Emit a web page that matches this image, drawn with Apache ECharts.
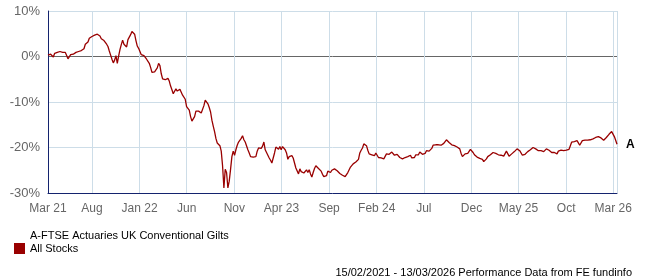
<!DOCTYPE html>
<html>
<head>
<meta charset="utf-8">
<script src="https://cdn.jsdelivr.net/npm/echarts@6/dist/echarts.min.js"></script>
<style>
html,body{margin:0;padding:0;background:#fff;}
#chart{width:647px;height:280px;}
</style>
</head>
<body>
<div id="chart"></div>
<script>
// ---- Data ----
const seriesName = 'A-FTSE Actuaries UK Conventional Gilts All Stocks';
const axisStart = '2021-03-13';
const axisEnd = '2026-03-13';
const tickDates = ['2021-03-13','2021-08-01','2022-01-01','2022-06-01','2022-11-01','2023-04-01','2023-09-01','2024-02-01','2024-07-01','2024-12-01','2025-05-01','2025-10-01','2026-03-01'];
const tickLabels = ['Mar 21','Aug','Jan 22','Jun','Nov','Apr 23','Sep','Feb 24','Jul','Dec','May 25','Oct','Mar 26'];
const yTicks = [-30, -20, -10, 0, 10];

// cumulative performance (%), regularly spaced samples from axisStart to axisEnd
const perf2021 = [0.3,-0.1,0.5,0.4,-0.1,0.7,0.8,0.9,1.1,1.1,0.9,0.9,1.0,0.9,0.2,-0.5,-0.1,0.4,0.8,0.5,0.4,0.9,1.1,1.1,1.0,1.3,1.6,1.7,2.7,2.9,3.2,4.0,4.2,4.4,4.8,4.7,4.7,4.9,4.8,4.5,3.9,3.7,3.5,3.1,2.7,2.2,1.2,0.3,-0.6,-1.4,-0.8,0.2,-1.5,0.1,1.5,2.6,3.6,2.7,3.1,2.1,3.7,4.0,4.8,5.5,5.8,4.9,3.5,2.3,1.8,1.1,0.4,0.0,0.2,-0.2,-0.6,-0.4,-1.5,-2.4,-3.5,-3.5,-3.4,-3.0,-2.5,-1.5,-2.0,-3.8,-4.9,-5.0,-5.1,-5.4,-4.8,-5.4,-6.5,-7.3,-8.2,-8.2,-7.1,-7.6,-8.0,-7.2,-7.6,-8.5,-8.8];
const perf2022 = [-9.4,-11.0,-11.3,-11.8,-13.2,-14.2,-14.0,-13.2,-12.0,-11.6,-12.0,-11.8,-12.4,-12.0,-10.8,-9.6,-9.3,-10.4,-11.2,-12.2,-14.0,-15.3,-16.5,-18.0,-19.0,-19.4,-19.6,-20.8,-24.0,-28.9,-24.8,-25.5,-28.9,-27.4,-24.8,-22.0,-20.8,-21.7,-20.5,-19.5,-18.8,-19.1,-18.0,-17.4,-18.3,-18.8,-19.2,-20.5,-21.2,-22.0,-22.3,-22.1,-21.7,-22.0,-20.8,-20.1,-19.9,-20.2,-19.7,-18.8,-20.5,-20.9,-21.7,-22.3,-22.8,-23.4,-23.0,-21.2,-19.9,-19.5,-20.4,-19.8,-20.5,-19.8,-20.1,-20.5,-21.2,-22.6,-22.0,-22.3,-21.8,-22.3,-23.4,-24.5,-24.9,-25.8,-24.7,-25.3,-24.9,-25.6,-25.2,-24.9,-25.5,-24.9,-25.8,-26.5,-25.5,-24.6,-24.0,-24.3,-24.6,-24.3,-25.2,-25.9,-26.4];
const perf2024 = [-26.6,-26.2,-25.2,-25.4,-25.5,-25.0,-24.6,-24.7,-25.1,-25.1,-25.5,-25.7,-25.5,-26.1,-26.5,-26.4,-26.0,-25.5,-24.9,-24.3,-24.0,-23.6,-23.4,-23.2,-23.0,-22.6,-21.2,-20.6,-20.1,-19.2,-19.0,-19.6,-20.6,-21.4,-21.7,-21.6,-21.8,-21.8,-21.2,-21.5,-22.2,-22.4,-22.3,-22.4,-22.5,-22.1,-21.4,-21.4,-21.5,-21.2,-21.0,-21.1,-21.7,-21.8,-21.5,-21.7,-22.2,-22.3,-22.5,-22.6,-22.2,-21.8,-22.0,-21.8,-21.7,-22.3,-22.6,-22.2,-21.6,-21.7,-21.6,-21.0,-21.3,-21.5,-21.5,-21.3,-20.7,-20.8,-20.8,-20.5,-20.2,-19.5,-19.4,-19.4,-19.3,-19.4,-19.4,-19.5,-19.3,-19.1,-18.8,-18.3,-18.3,-18.9,-19.2,-19.4,-19.5,-19.6,-20.0,-19.9,-19.7,-20.3,-21.3,-22.0,-22.0];
const perf2025 = [-21.4,-21.2,-21.3,-21.0,-20.4,-20.6,-21.1,-21.6,-21.9,-22.1,-22.4,-22.4,-22.3,-22.6,-23.1,-23.1,-22.5,-22.0,-21.8,-21.6,-21.3,-21.1,-21.2,-21.3,-21.4,-21.6,-21.7,-21.7,-21.6,-21.9,-21.5,-20.8,-21.1,-21.9,-21.6,-21.4,-21.4,-20.9,-20.6,-20.3,-20.4,-20.7,-21.1,-21.7,-21.8,-21.5,-21.2,-20.9,-20.6,-20.5,-20.4,-20.0,-20.0,-20.3,-20.5,-20.7,-20.7,-20.7,-20.8,-20.9,-20.8,-20.3,-20.2,-20.6,-20.9,-21.1,-21.0,-21.1,-21.5,-21.4,-20.8,-20.6,-20.6,-20.5,-20.7,-20.7,-20.6,-20.8,-20.4,-19.6,-18.8,-18.7,-18.7,-18.4,-18.5,-19.0,-19.5,-19.3,-18.5,-18.4,-18.4,-18.4,-18.4,-18.4,-18.3,-18.2,-18.1,-17.9,-17.8,-17.5,-17.6,-17.8,-17.9,-18.2,-18.4,-18.2,-17.8,-17.4,-17.1,-16.8,-16.5,-16.9,-17.6,-18.4,-19.3];

// ---- Build ----
const values = perf2021.concat(perf2022, perf2024, perf2025);
const toTs = s => new Date(s + 'T00:00:00').getTime();
const t0 = toTs(axisStart), t1 = toTs(axisEnd);
const stepMs = (t1 - t0) / (values.length - 1);
const seriesData = values.map((v, i) => [t0 + i * stepMs, v]);
const tickTs = tickDates.map(toTs);
const gridTs = tickTs.concat([t1]);

const FONT = '"Liberation Sans", Arial, sans-serif';
const GRID = '#cddde8';
const NAVY = '#14236e';
const RED = '#990000';

const chart = echarts.init(document.getElementById('chart'), null, {renderer: 'canvas'});
chart.setOption({
  animation: false,
  backgroundColor: '#fff',
  grid: {left: 48, right: 30, top: 11, height: 182, containLabel: false},
  xAxis: {
    type: 'value',
    min: t0,
    max: t1,
    axisLine: {show: true, onZero: false, lineStyle: {color: NAVY, width: 1}},
    axisTick: {show: false, customValues: gridTs},
    splitLine: {show: true, lineStyle: {color: GRID, width: 1}},
    axisLabel: {
      customValues: tickTs,
      color: '#666',
      fontFamily: FONT,
      fontSize: 12,
      margin: 10,
      hideOverlap: false,
      showMinLabel: true,
      showMaxLabel: true,
      formatter: function (val) {
        let best = 0, bd = Infinity;
        tickTs.forEach((t, i) => { const d = Math.abs(t - val); if (d < bd) { bd = d; best = i; } });
        return tickLabels[best];
      }
    }
  },
  yAxis: {
    type: 'value',
    min: yTicks[0],
    max: yTicks[yTicks.length - 1],
    interval: 10,
    axisLine: {show: true, lineStyle: {color: NAVY, width: 1}},
    axisTick: {show: false},
    splitLine: {show: true, lineStyle: {color: yTicks.map(v => v === 0 ? '#666666' : GRID), width: 1}},
    axisLabel: {color: '#666', fontFamily: FONT, fontSize: 13, margin: 8, formatter: '{value}%'}
  },
  series: [{
    name: seriesName,
    type: 'line',
    data: seriesData,
    showSymbol: false,
    symbol: 'none',
    lineStyle: {color: RED, width: 1.3},
    itemStyle: {color: RED},
    endLabel: {show: true, formatter: 'A', color: '#000', fontWeight: 'bold', fontFamily: FONT, fontSize: 12, distance: 9}
  }],
  graphic: [
    {type: 'rect', left: 14, top: 243, shape: {width: 11, height: 11}, style: {fill: RED}},
    {type: 'text', left: 30, top: 230, style: {text: 'A-FTSE Actuaries UK Conventional Gilts\nAll Stocks', fill: '#000', font: '11px ' + FONT, lineHeight: 12.5}},
    {type: 'text', right: 15, top: 267, style: {text: '15/02/2021 - 13/03/2026 Performance Data from FE fundinfo', fill: '#000', font: '11px ' + FONT}}
  ]
});
</script>
</body>
</html>
